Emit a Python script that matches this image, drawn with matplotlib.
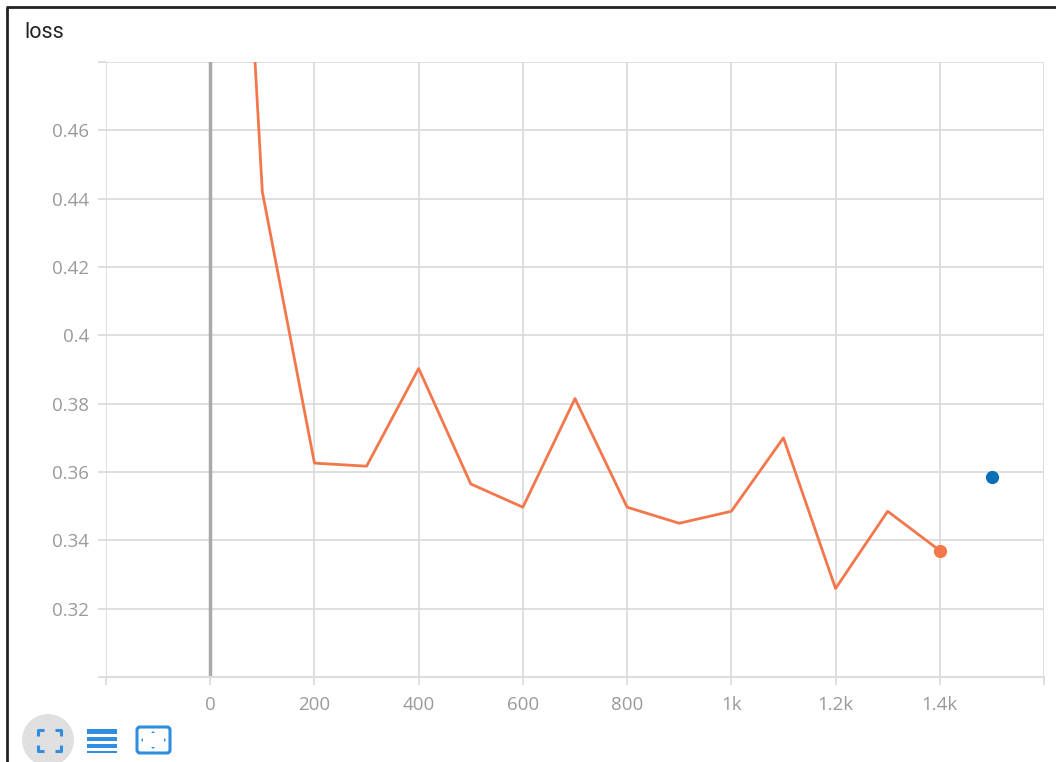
import matplotlib
matplotlib.use("Agg")
import matplotlib.pyplot as plt
from matplotlib.patches import Circle, FancyBboxPatch, Rectangle, Polygon
from matplotlib.ticker import FuncFormatter

# loss values
steps = [0, 100, 200, 300, 400, 500, 600, 700, 800, 900, 1000, 1100, 1200, 1300, 1400]
loss = [0.713, 0.442, 0.3626, 0.3617, 0.3903, 0.3565, 0.3497, 0.3815, 0.3497,
        0.345, 0.3485, 0.370, 0.3259, 0.3485, 0.337]
extra_step = [1500]
extra_loss = [0.3585]

x_ticks = [-200, 0, 200, 400, 600, 800, 1000, 1200, 1400, 1600]
y_ticks = [0.30, 0.32, 0.34, 0.36, 0.38, 0.40, 0.42, 0.44, 0.46, 0.48]

ORANGE = "#f4764b"
BLUE = "#0b6fb8"
ICON = "#2f8ee0"
GRID = "#dcdcdc"
TEXT = "#9a9a9a"

plt.rcParams["font.family"] = ["Open Sans", "DejaVu Sans"]

W, H = 1056, 762
fig = plt.figure(figsize=(W / 100, H / 100), dpi=100)

# main plot area
ax = fig.add_axes([106 / W, (H - 677) / H, (1044 - 106) / W, (677 - 62) / H])
ax.set_xlim(-200, 1600)
ax.set_ylim(0.30, 0.48)
ax.set_xticks(x_ticks)
ax.set_yticks(y_ticks)

def fmt_x(v, pos):
    if v in (-200, 1600):
        return ""
    if abs(v) >= 1000:
        return f"{v / 1000:g}k"
    return f"{int(v)}"

def fmt_y(v, pos):
    if v < 0.31 or v > 0.47:
        return ""
    return f"{v:g}"

ax.xaxis.set_major_formatter(FuncFormatter(fmt_x))
ax.yaxis.set_major_formatter(FuncFormatter(fmt_y))
ax.grid(True, color=GRID, linewidth=1.3)
ax.tick_params(axis="both", colors=GRID, labelcolor=TEXT, labelsize=13.5,
               length=6, width=1.3)
ax.tick_params(axis="x", pad=8)
ax.tick_params(axis="y", pad=6)
for side in ["top", "right", "left"]:
    ax.spines[side].set_visible(False)
ax.spines["bottom"].set_color(GRID)
ax.spines["bottom"].set_linewidth(1.5)
ax.set_axisbelow(True)

ax.axvline(0, color="#a9a9a9", linewidth=2.5, zorder=1)

ax.plot(steps, loss, color=ORANGE, linewidth=2.0, zorder=3)
ax.plot(steps[-1:], loss[-1:], "o", color=ORANGE, markersize=8.5, zorder=4)
ax.plot(extra_step, extra_loss, "o", color=BLUE, markersize=8.5, zorder=4)

# overlay in pixel coordinates for the card frame, title and icons
ov = fig.add_axes([0, 0, 1, 1], zorder=5)
ov.set_xlim(0, W)
ov.set_ylim(H, 0)
ov.axis("off")
ov.patch.set_alpha(0)

ov.plot([7, 7], [7, H + 5], color="#222222", linewidth=2, solid_capstyle="butt")
ov.plot([6, W + 5], [7, 7], color="#222222", linewidth=2, solid_capstyle="butt")

ov.text(24, 32, "loss", fontsize=15.5, color="#222222", va="center", ha="left",
        family=["Roboto", "DejaVu Sans"])

# fit-to-data button
ov.add_patch(Circle((48, 740), 26, color="#e0e0e0", lw=0))
for cx, cy, dx, dy in [(38, 730, 1, 1), (61, 730, -1, 1), (38, 751, 1, -1), (61, 751, -1, -1)]:
    ov.plot([cx + 6 * dx, cx, cx], [cy, cy, cy + 6 * dy], color=ICON, linewidth=2.2,
            solid_capstyle="butt")

# list button
for y0, h in [(729, 5), (737, 4), (744, 4), (751, 2)]:
    ov.add_patch(Rectangle((87, y0), 30, h, color=ICON, lw=0))

# expand button
ov.add_patch(FancyBboxPatch((137, 727), 33, 26, boxstyle="round,pad=0,rounding_size=3",
                            fill=False, edgecolor=ICON, linewidth=2.2))
for pts in [[(151, 733), (155, 733), (153, 731)],
            [(151, 747), (155, 747), (153, 749)],
            [(143, 738), (143, 742), (141, 740)],
            [(164, 738), (164, 742), (166, 740)]]:
    ov.add_patch(Polygon(pts, closed=True, color=ICON, lw=0))

fig.savefig("out.png", dpi=100)
